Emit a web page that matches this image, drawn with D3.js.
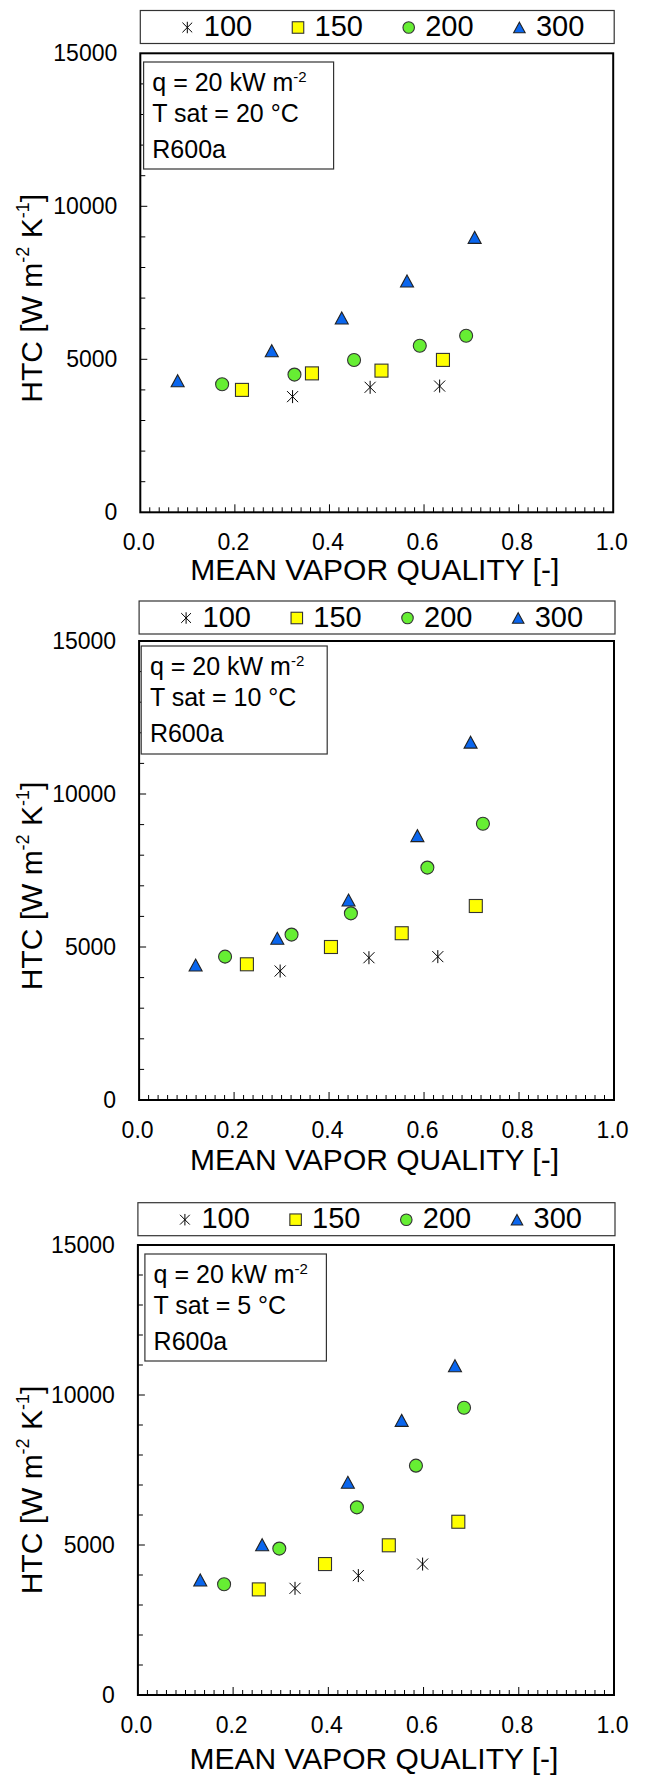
<!DOCTYPE html>
<html>
<head>
<meta charset="utf-8">
<script src="https://cdn.jsdelivr.net/npm/d3@7"></script>
<style>
  body { margin: 0; background: #fff; }
  text { font-family: "Liberation Sans", Arial, sans-serif; fill: #000; }
</style>
</head>
<body>
<div id="chart"></div>
<script>
// mass flux groups (legend) and saturation temperature of each panel
const groups = ["100", "150", "200", "300"];
const satTemps = [20, 10, 5];
const qualityTicks = [0, 0.2, 0.4, 0.6, 0.8, 1.0];
const htcTicks = [0, 5000, 10000, 15000];

// [mean vapor quality, HTC] for T sat = 20 °C
const t20_g100 = [[0.322, 3780], [0.486, 4085], [0.633, 4125]];
const t20_g150 = [[0.215, 4000], [0.363, 4540], [0.510, 4630], [0.640, 4980]];
const t20_g200 = [[0.173, 4185], [0.326, 4500], [0.452, 4975], [0.591, 5445], [0.689, 5770]];
const t20_g300 = [[0.079, 4300], [0.278, 5280], [0.426, 6350], [0.564, 7560], [0.707, 8985]];

// T sat = 10 °C
const t10_g100 = [[0.297, 4215], [0.484, 4650], [0.629, 4685]];
const t10_g150 = [[0.227, 4435], [0.404, 5000], [0.553, 5450], [0.709, 6340]];
const t10_g200 = [[0.181, 4685], [0.321, 5405], [0.446, 6100], [0.607, 7595], [0.724, 9030]];
const t10_g300 = [[0.119, 4410], [0.291, 5285], [0.441, 6535], [0.586, 8640], [0.698, 11695]];

// T sat = 5 °C
const t5_g100 = [[0.330, 3555], [0.463, 3980], [0.598, 4365]];
const t5_g150 = [[0.254, 3520], [0.393, 4365], [0.527, 4990], [0.673, 5775]];
const t5_g200 = [[0.181, 3690], [0.297, 4880], [0.460, 6255], [0.584, 7645], [0.685, 9575]];
const t5_g300 = [[0.131, 3835], [0.261, 5010], [0.441, 7090], [0.554, 9155], [0.666, 10975]];

const panelData = [
  [t20_g100, t20_g150, t20_g200, t20_g300],
  [t10_g100, t10_g150, t10_g200, t10_g300],
  [t5_g100, t5_g150, t5_g200, t5_g300]
];

// placement of each panel on the page
const layout = [
  { left: 140.3, right: 613.2, top: 53.3, bottom: 512.3, legendTop: 10.5, note: [143.6, 62, 190, 107], titleDy: 68 },
  { left: 139.1, right: 614.0, top: 641, bottom: 1100, legendTop: 601, note: [141.2, 646, 186, 108], titleDy: 70 },
  { left: 137.9, right: 614.0, top: 1245, bottom: 1695, legendTop: 1202.7, note: [144.9, 1254, 181.5, 107], titleDy: 74 }
];

const width = 645, height = 1777;
const svg = d3.select("#chart").append("svg")
  .attr("width", width)
  .attr("height", height);

function marker(g, key, s) {
  const h = s / 2;
  if (key === "100") {
    const d = h * 0.85;
    g.append("path")
      .attr("d", `M${-d},${-d}L${d},${d}M${-d},${d}L${d},${-d}M0,${-h}L0,${h}`)
      .attr("stroke", "#000").attr("stroke-width", 1).attr("fill", "none");
  } else if (key === "150") {
    g.append("rect")
      .attr("x", -h).attr("y", -h).attr("width", s).attr("height", s)
      .attr("fill", "#FFFF00").attr("stroke", "#333").attr("stroke-width", 1.1);
  } else if (key === "200") {
    g.append("circle")
      .attr("r", h)
      .attr("fill", "#66EE33").attr("stroke", "#333").attr("stroke-width", 1.1);
  } else {
    g.append("path")
      .attr("d", `M0,${-0.46 * s}L${h},${0.46 * s}L${-h},${0.46 * s}Z`)
      .attr("fill", "#0A66EE").attr("stroke", "#222").attr("stroke-width", 1.1);
  }
}

function drawPanel(p, i) {
  const x = d3.scaleLinear().domain([0, 1]).range([p.left, p.right]);
  const y = d3.scaleLinear().domain([0, 15000]).range([p.bottom, p.top]);
  const g = svg.append("g");

  // legend
  g.append("rect")
    .attr("x", p.left).attr("y", p.legendTop)
    .attr("width", p.right - p.left + 1).attr("height", 33)
    .attr("fill", "#fff").attr("stroke", "#333").attr("stroke-width", 1.2);
  groups.forEach((key, k) => {
    const mx = p.left + 47 + k * 110.7;
    const lg = g.append("g").attr("transform", `translate(${mx},${p.legendTop + 17})`);
    marker(lg, key, 11.5);
    g.append("text")
      .attr("x", mx + 16.5).attr("y", p.legendTop + 25.5)
      .attr("font-size", 29)
      .text(key);
  });

  // minor ticks, inward
  const xMinor = d3.range(1, 50).map(d => d / 50);
  g.selectAll(".xt").data(xMinor).join("line")
    .attr("x1", d => x(d)).attr("x2", d => x(d))
    .attr("y1", p.bottom).attr("y2", d => p.bottom - (Math.round(d * 50) % 10 === 0 ? 8 : 5))
    .attr("stroke", "#000").attr("stroke-width", 1);
  const yMinor = d3.range(1000, 15000, 1000);
  g.selectAll(".yt").data(yMinor).join("line")
    .attr("x1", p.left).attr("x2", d => p.left + (d % 5000 === 0 ? 7 : 5))
    .attr("y1", d => y(d)).attr("y2", d => y(d))
    .attr("stroke", "#000").attr("stroke-width", 1);

  // frame
  g.append("rect")
    .attr("x", p.left).attr("y", p.top)
    .attr("width", p.right - p.left).attr("height", p.bottom - p.top)
    .attr("fill", "none").attr("stroke", "#000").attr("stroke-width", 2);

  // tick labels
  g.selectAll(".xl").data(qualityTicks).join("text")
    .attr("x", d => x(d) - 1.5).attr("y", p.bottom + 37.5)
    .attr("text-anchor", "middle").attr("font-size", 23)
    .text(d3.format(".1f"));
  g.selectAll(".yl").data(htcTicks).join("text")
    .attr("x", p.left - 23).attr("y", d => y(d) + 8)
    .attr("text-anchor", "end").attr("font-size", 23)
    .text(d => d);

  // axis titles
  g.append("text")
    .attr("x", (p.left + p.right) / 2 - 2).attr("y", p.bottom + p.titleDy)
    .attr("text-anchor", "middle").attr("font-size", 30)
    .text("MEAN VAPOR QUALITY [-]");
  const yt = g.append("text")
    .attr("transform", `translate(42,${p.top + 245}) rotate(-90)`)
    .attr("text-anchor", "middle").attr("font-size", 30);
  yt.append("tspan").text("HTC [W m");
  yt.append("tspan").attr("font-size", 18).attr("dy", -13).text("-2");
  yt.append("tspan").attr("dy", 13).text(" K");
  yt.append("tspan").attr("font-size", 18).attr("dy", -13).text("-1");
  yt.append("tspan").attr("dy", 13).text("]");

  // condition box
  const [nx, ny, nw, nh] = p.note;
  g.append("rect")
    .attr("x", nx).attr("y", ny).attr("width", nw).attr("height", nh)
    .attr("fill", "#fff").attr("stroke", "#333").attr("stroke-width", 1.2);
  const l1 = g.append("text").attr("x", nx + 8.7).attr("y", ny + 28.7).attr("font-size", 25);
  l1.append("tspan").text("q = 20 kW m");
  l1.append("tspan").attr("font-size", 15).attr("dy", -9).text("-2");
  g.append("text").attr("x", nx + 8.7).attr("y", ny + 59.5).attr("font-size", 25)
    .text(`T sat = ${satTemps[i]} °C`);
  g.append("text").attr("x", nx + 8.7).attr("y", ny + 96.3).attr("font-size", 25)
    .text("R600a");

  // points
  groups.forEach((key, k) => {
    panelData[i][k].forEach(([q, htc]) => {
      const pg = g.append("g").attr("transform", `translate(${x(q)},${y(htc)})`);
      marker(pg, key, 13);
    });
  });
}

layout.forEach(drawPanel);
</script>
</body>
</html>
